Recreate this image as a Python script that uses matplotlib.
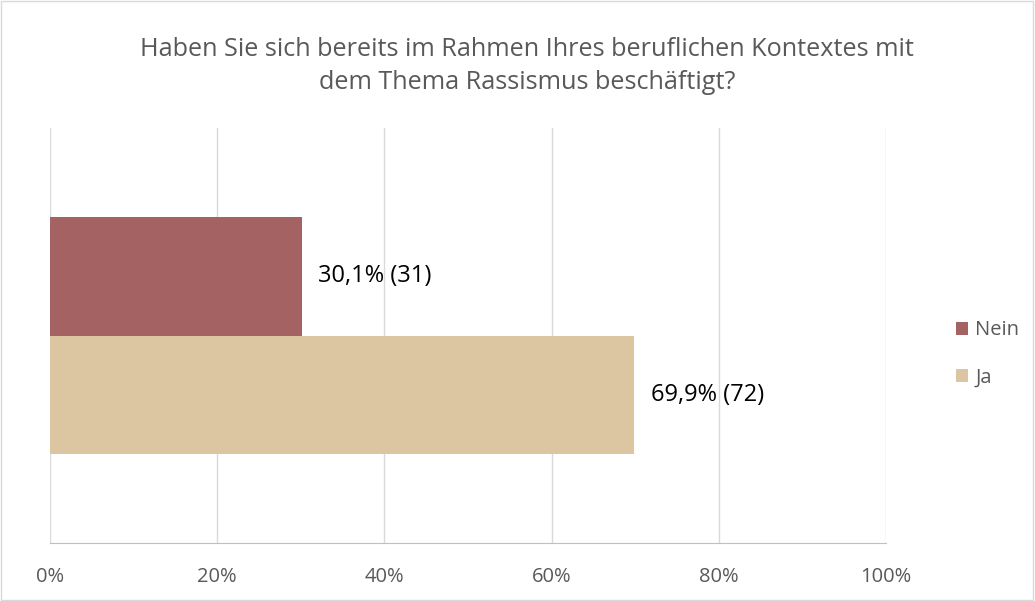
import matplotlib
matplotlib.use('Agg')
import matplotlib.pyplot as plt
from matplotlib.patches import Rectangle
import matplotlib.ticker as ticker

# Data
series = ['Nein', 'Ja']
percent = [30.1, 69.9]
counts = [31, 72]
colors = ['#a46362', '#dcc5a1']
title = 'Haben Sie sich bereits im Rahmen Ihres beruflichen Kontextes mit\ndem Thema Rassismus beschäftigt?'

plt.rcParams['font.family'] = ['Open Sans', 'DejaVu Sans']
fig = plt.figure(figsize=(10.35, 6.01), dpi=100)
fig.patch.set_facecolor('white')
fig.patches.append(Rectangle((0.001, 0.001), 0.997, 0.997, transform=fig.transFigure,
                             fill=False, edgecolor='#d9d9d9', linewidth=1))

ax = fig.add_axes([50 / 1035, 58 / 601, 836 / 1035, 415 / 601])
bar_h = 0.285
ypos = [bar_h / 2, -bar_h / 2]
for y, p, n, c, s in zip(ypos, percent, counts, colors, series):
    ax.barh(y, p, height=bar_h, color=c, label=s, zorder=3)
    ax.text(p + 2, y, f'{str(p).replace(".", ",")}% ({n})', va='center', ha='left',
            fontsize=17, color='black', zorder=4)

ax.set_xlim(0, 100)
ax.set_ylim(-0.5, 0.5)
ax.xaxis.set_major_locator(ticker.MultipleLocator(20))
ax.xaxis.set_major_formatter(ticker.FuncFormatter(lambda x, pos: f'{int(x)}%'))
ax.set_yticks([])
ax.grid(axis='x', color='#d9d9d9', linewidth=1, zorder=0)
for side in ['top', 'right', 'left']:
    ax.spines[side].set_visible(False)
ax.spines['bottom'].set_color('#bfbfbf')
ax.tick_params(axis='x', length=0, pad=17, labelsize=14.5, labelcolor='#595959')

fig.text(527 / 1035, 1 - 66 / 601, title, ha='center', va='center', fontsize=18.2,
         color='#595959', linespacing=1.45)

handles, labels = ax.get_legend_handles_labels()
leg = fig.legend(handles, labels, loc='center left', bbox_to_anchor=(938 / 1035, 1 - 354 / 601),
                 frameon=False, fontsize=14.5, handlelength=0.6, handleheight=0.6,
                 handletextpad=0.35, labelspacing=1.35, labelcolor='#595959')

fig.savefig('out.png', dpi=100)
